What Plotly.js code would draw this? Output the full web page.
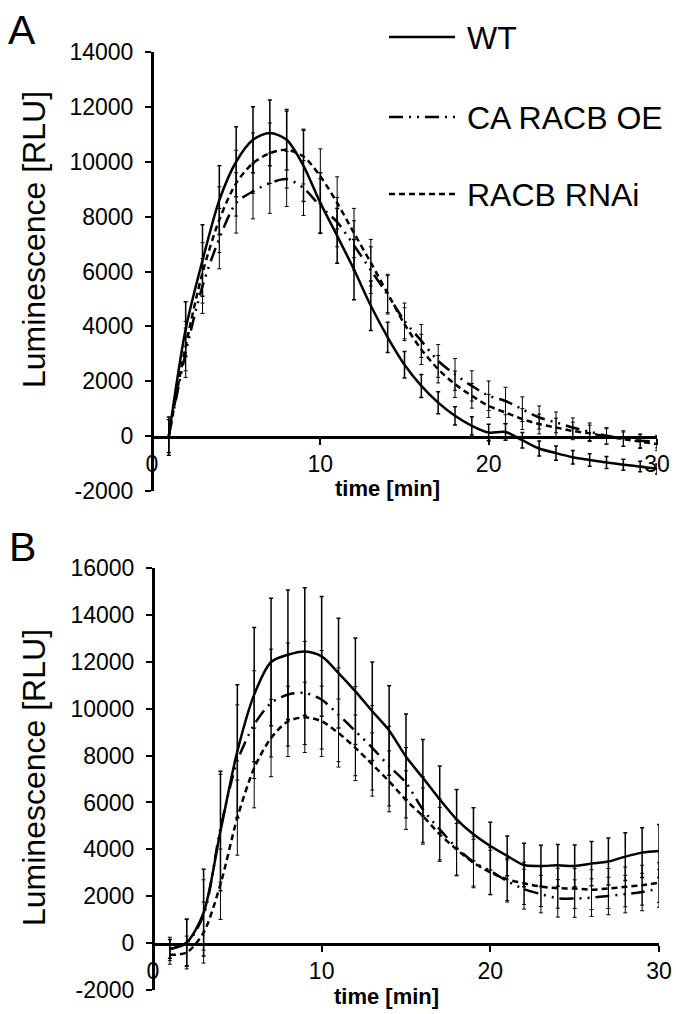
<!DOCTYPE html>
<html>
<head>
<meta charset="utf-8">
<script src="https://cdn.plot.ly/plotly-3.0.1.min.js"></script>
<style>
  html, body { margin: 0; padding: 0; background: #ffffff; }
  #plot { width: 676px; height: 1014px; }
</style>
</head>
<body>
<div id="plot"></div>
<script>
// ---------- data ----------
const time = [1,2,3,4,5,6,7,8,9,10,11,12,13,14,15,16,17,18,19,20,21,22,23,24,25,26,27,28,29,30];

const seriesNames = ["WT", "CA RACB OE", "RACB RNAi"];

// Panel A
const A_WT = [0,3900,6400,8600,10000,10800,11050,10800,9850,8500,7300,6070,4750,3600,2600,1830,1220,740,375,130,150,-150,-450,-620,-770,-870,-960,-1040,-1110,-1200];
const A_WT_err = [700,1000,1300,1250,1280,1200,1200,1100,1300,1100,1000,1100,900,550,480,420,400,330,330,300,300,280,270,260,250,230,220,200,190,180];
const A_CA = [0,3040,5470,7200,8500,8920,9220,9370,9040,8380,7800,6950,6050,5150,4200,3470,2740,2250,1830,1470,1280,980,680,500,315,160,10,-85,-170,-200];
const A_CA_err = [600,900,1000,1100,1100,1000,1100,1000,1000,1000,900,900,850,700,650,600,600,580,550,540,500,450,420,380,350,320,300,280,250,230];
const A_RNAi = [0,3280,5950,7890,9220,9950,10310,10440,10190,9470,8500,7400,6320,5200,4080,3160,2440,1890,1470,1100,860,620,440,315,190,100,-10,-110,-200,-290];
const A_RNAi_err = [600,900,1100,1200,1200,1100,1100,1400,1000,1000,950,900,850,700,600,550,500,480,450,420,400,380,360,340,320,300,280,260,250,240];

// Panel B
const B_WT = [-250,30,1300,4780,8180,10600,11990,12300,12440,12230,11520,10740,9890,9070,7950,7050,6130,5280,4640,4140,3720,3330,3290,3320,3290,3390,3480,3690,3860,3930];
const B_WT_err = [400,1000,1850,2550,2840,2860,2720,2760,2720,2550,2340,2270,2100,1910,1820,1630,1420,1270,1130,1020,850,930,880,890,890,940,1000,1020,1060,1130];
const B_CA = [-250,0,1200,4900,7760,9320,10240,10600,10670,10380,9740,9040,8330,7550,6840,5700,4850,4070,3460,3080,2650,2300,2090,1910,1900,1940,2010,2090,2180,2330];
const B_CA_err = [500,1000,1500,2300,2400,2300,2300,2200,2200,2100,2000,1900,1800,1700,1500,1400,1300,1200,1100,1000,900,850,800,800,800,800,800,800,800,800];
const B_RNAi = [-500,-400,450,2510,5350,7470,8750,9460,9630,9460,8960,8330,7620,6900,6100,5420,4640,4000,3430,3010,2720,2550,2410,2340,2330,2280,2330,2400,2470,2580];
const B_RNAi_err = [400,700,1300,1500,1600,1700,1650,1500,1500,1500,1450,1400,1350,1300,1250,1200,1150,1100,1000,950,900,900,850,850,850,850,850,850,850,850];

const xTicks = [0,10,20,30];
const yTicksA = [-2000,0,2000,4000,6000,8000,10000,12000,14000];
const yTicksB = [-2000,0,2000,4000,6000,8000,10000,12000,14000,16000];

// ---------- styles ----------
const W = 676, H = 1014;
const FONT = "Liberation Sans, Arial, Helvetica, sans-serif";
const dashCA = "14px,6px,2px,6px,2px,6px";
const dashRNAi = "6px,4px";
const styles = [
  {dash: "solid", errW: 1.5},
  {dash: dashCA, errW: 1},
  {dash: dashRNAi, errW: 1}
];

function px(x) { return x / W; }
function py(y) { return 1 - y / H; }

function mkTrace(y, err, idx, xa, ya) {
  return {
    x: time, y: y, name: seriesNames[idx], type: "scatter", mode: "lines",
    xaxis: xa, yaxis: ya, showlegend: false,
    line: {color: "#000000", width: 2.5, dash: styles[idx].dash, shape: "spline", smoothing: 0.8},
    error_y: {type: "data", array: err, visible: true, color: "#000000", thickness: styles[idx].errW, width: 2}
  };
}

const data = [
  mkTrace(A_RNAi, A_RNAi_err, 2, "x", "y"),
  mkTrace(A_CA, A_CA_err, 1, "x", "y"),
  mkTrace(A_WT, A_WT_err, 0, "x", "y"),
  mkTrace(B_RNAi, B_RNAi_err, 2, "x2", "y2"),
  mkTrace(B_CA, B_CA_err, 1, "x2", "y2"),
  mkTrace(B_WT, B_WT_err, 0, "x2", "y2")
];

// geometry (pixels in the 676x1014 page)
const A_left = 152, A_right = 657, A_top = 52, A_bottom = 491, A_zero = 437;
const B_left = 153, B_right = 659, B_top = 568, B_bottom = 990, B_zero = 944;

const tickFont = {family: FONT, size: 23, color: "#000000"};

function xAxis(l, r, zeroPx) {
  return {
    domain: [px(l), px(r)], range: [0, 30], anchor: "free", position: py(zeroPx),
    tickvals: xTicks, ticktext: xTicks.map(String),
    ticks: "outside", ticklen: 6, tickwidth: 2, tickcolor: "#000",
    showline: true, linecolor: "#000", linewidth: 2.5,
    showgrid: false, zeroline: false, tickfont: tickFont, fixedrange: true
  };
}
function yAxis(t, b, l, rng, tv) {
  return {
    domain: [py(b), py(t)], range: rng, anchor: "free", position: px(l),
    tickvals: tv, ticktext: tv.map(String),
    ticks: "outside", ticklen: 6, tickwidth: 2, tickcolor: "#000",
    ticklabelstandoff: 7,
    showline: true, linecolor: "#000", linewidth: 2.5,
    showgrid: false, zeroline: false, tickfont: tickFont, fixedrange: true
  };
}

const layout = {
  width: W, height: H,
  margin: {l: 0, r: 0, t: 0, b: 0},
  paper_bgcolor: "#ffffff", plot_bgcolor: "#ffffff",
  showlegend: false,
  font: {family: FONT, color: "#000000"},
  xaxis: xAxis(A_left, A_right, A_zero),
  yaxis: yAxis(A_top, A_bottom, A_left, [-2000, 14000], yTicksA),
  xaxis2: xAxis(B_left, B_right, B_zero),
  yaxis2: yAxis(B_top, B_bottom, B_left, [-2000, 16000], yTicksB),
  shapes: [],
  annotations: []
};

// legend (drawn manually to reproduce the long line samples)
const legY = [37, 117, 194];
const legDash = ["solid", dashCA, dashRNAi];
for (let i = 0; i < 3; i++) {
  layout.shapes.push({type: "line", xref: "paper", yref: "paper",
    x0: px(389), x1: px(455), y0: py(legY[i]), y1: py(legY[i]),
    line: {color: "#000", width: 2.5, dash: legDash[i]}});
  layout.annotations.push({xref: "paper", yref: "paper", x: px(465), y: py(legY[i] + 1),
    xanchor: "left", yanchor: "middle", showarrow: false, text: seriesNames[i],
    font: {family: FONT, size: 32, color: "#000"}});
}

// axis titles and panel letters
const annos = [
  {x: 387, y: 488, text: "<b>time [min]</b>", size: 22, angle: 0},
  {x: 386, y: 996, text: "<b>time [min]</b>", size: 22, angle: 0},
  {x: 34, y: 240, text: "Luminescence [RLU]", size: 32, angle: -90},
  {x: 34, y: 778, text: "Luminescence [RLU]", size: 32, angle: -90},
  {x: 22, y: 30, text: "A", size: 41, angle: 0},
  {x: 22, y: 547, text: "B", size: 41, angle: 0}
];
annos.forEach(a => layout.annotations.push({
  xref: "paper", yref: "paper", x: px(a.x), y: py(a.y), xanchor: "center", yanchor: "middle",
  showarrow: false, text: a.text, textangle: a.angle, font: {family: FONT, size: a.size, color: "#000"}
}));

Plotly.newPlot("plot", data, layout, {staticPlot: true, displayModeBar: false});
</script>
</body>
</html>
